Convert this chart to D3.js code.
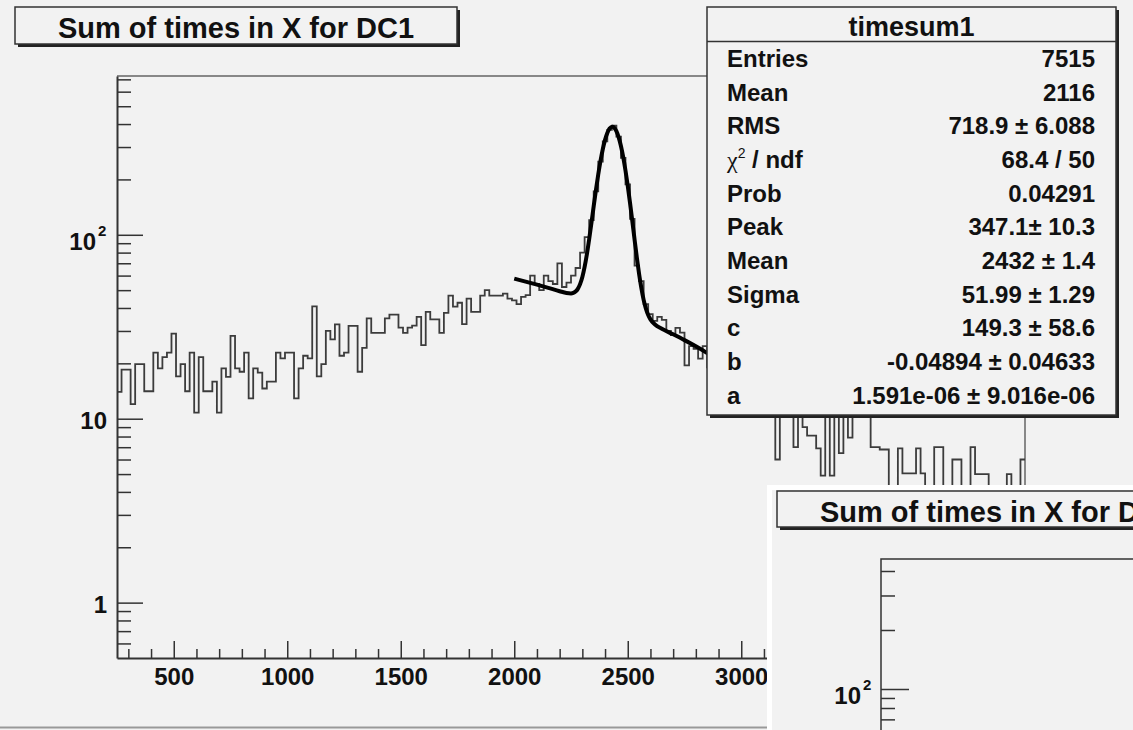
<!DOCTYPE html>
<html>
<head>
<script src="https://cdnjs.cloudflare.com/ajax/libs/d3/7.8.5/d3.min.js"></script>
<style>
  body { margin: 0; background: #f2f2f2; }
  svg { display: block; font-family: "Liberation Sans", Arial, sans-serif; }
  .lbl { font-weight: bold; fill: #111; }
</style>
</head>
<body>
<div id="chart"></div>
<script>
const W = 1133, H = 730;

// histogram "timesum1": 200 bins of width 20 starting at 250
const binLow = 250, binWidth = 20;
const counts = [
  14, 18.5, 18.5, 12, 19.8, 19.8, 14.1, 14.1, 22.9, 18.8,
  21.6, 22.9, 29, 17, 19.8, 14.1, 22.9, 10.8, 21.6, 14.1,
  14.1, 15.9, 10.8, 18.8, 16.9, 28.2, 18.8, 18, 22.9, 12.9,
  18.8, 17.8, 14.6, 15.9, 15.9, 22.9, 21.3, 22.9, 22.9, 12.9,
  18.8, 22, 21.3, 40.8, 17, 19.8, 30, 27, 32.6, 22,
  22.9, 32, 32, 18, 24.3, 35.1, 29.3, 29.3, 29.3, 35.1,
  36.8, 36.8, 31.3, 29.3, 31.3, 32.1, 35.8, 25.1, 38.1, 34.7,
  34.7, 29.3, 37.6, 46.7, 40.7, 42.7, 32.7, 45, 38.1, 38.1,
  46.7, 50, 46.7, 46.7, 46.7, 47.9, 45, 44, 42, 46,
  47, 60, 54, 50, 60, 56, 54, 70, 52, 55,
  60, 66, 80, 97, 120, 172, 250, 322, 372, 392,
  342, 262, 188, 122, 68, 56, 42, 37, 34, 35.8,
  34.5, 30, 28.5, 31.2, 29.4, 19.5, 24.8, 24, 21.2, 24.8,
  19, 22, 17, 20, 15, 18, 14, 16, 13, 15,
  12, 14, 12.5, 11.5, 13, 6.0, 12, 11, 13, 7.0,
  11, 9.0, 8.1, 8.1, 6.9, 4.9, 12, 4.9, 10.2, 6.5,
  10.4, 7.9, 12, 11.5, 12, 11, 7.0, 7.0, 6.8, 6.8,
  3.2, 3.0, 6.9, 5.05, 5.05, 5.05, 6.9, 5.05, 3.5, 3.8,
  7, 7, 3, 3.5, 6, 6, 3.5, 4, 7, 5,
  5, 5, 3, 3.5, 2.8, 3.2, 5, 3.5, 3, 6
];

// fitted curve (gaus + pol2) sampled over the fit range
const fitX = [2000, 2050, 2100, 2150, 2200, 2230, 2250, 2260, 2270, 2280, 2290, 2300, 2310, 2320, 2330,
  2340, 2350, 2360, 2370, 2380, 2390, 2400, 2410, 2420, 2432, 2440, 2450, 2460, 2470, 2480, 2490, 2500,
  2510, 2520, 2530, 2540, 2550, 2560, 2570, 2580, 2590, 2600, 2620, 2650, 2700, 2750, 2800, 2850, 2900,
  2950, 3000, 3050, 3100, 3120];
const fitY = [57.78, 55.66, 53.54, 51.43, 49.35, 48.26, 48.00, 48.28, 49.11, 50.82, 53.90, 58.95, 66.85,
  78.42, 94.55, 115.99, 143.15, 175.66, 212.71, 252.34, 291.89, 328.21, 357.98, 378.18, 386.79, 382.36,
  365.85, 338.74, 303.88, 264.41, 223.59, 184.49, 149.12, 118.97, 94.40, 75.36, 61.26, 51.24, 44.27,
  39.67, 36.65, 34.68, 32.50, 30.83, 28.76, 26.75, 24.74, 22.74, 20.75, 18.77, 16.80, 14.83, 12.88, 12.09];

const xMajorTicks = [500, 1000, 1500, 2000, 2500, 3000, 3500, 4000];
const xLabelled = [500, 1000, 1500, 2000, 2500, 3000]; // the rest sit under the second pad
const yDecades = [1, 10, 100];
const yLabels = ["1", "10", "10"];
const yLabelSup = ["", "", "2"];

const statNames = ["Entries", "Mean", "RMS", "chi", "Prob", "Peak", "Mean", "Sigma", "c", "b", "a"];
const statValues = ["7515", "2116", "718.9 \u00b1  6.088", "68.4 / 50", "0.04291", "347.1\u00b1 10.3",
  "2432 \u00b1 1.4", "51.99 \u00b1 1.29", "149.3 \u00b1 58.6", "-0.04894 \u00b1 0.04633",
  "1.591e-06 \u00b1 9.016e-06"];

const title = "Sum of times in X for DC1";
const statTitle = "timesum1";

const bg = "#f2f2f2";
const frame = { left: 117, right: 1025, top: 76, bottom: 658 };

const svg = d3.select("#chart").append("svg").attr("width", W).attr("height", H);
svg.append("rect").attr("width", W).attr("height", H).attr("fill", bg);
svg.append("line").attr("x1", 0).attr("x2", W).attr("y1", 727.5).attr("y2", 727.5)
  .attr("stroke", "#999").attr("stroke-width", 2);

const x = d3.scaleLinear().domain([binLow, binLow + binWidth * counts.length]).range([frame.left, frame.right]);
const y = d3.scaleLog().domain([0.5, 730]).range([frame.bottom, frame.top]);

svg.append("clipPath").attr("id", "frameClip").append("rect")
  .attr("x", frame.left).attr("y", frame.top)
  .attr("width", frame.right - frame.left).attr("height", frame.bottom - frame.top);

// frame top / right
svg.append("path")
  .attr("d", `M${frame.left},${frame.top}H${frame.right}V${frame.bottom}`)
  .attr("fill", "none").attr("stroke", "#666").attr("stroke-width", 1.5);

// histogram outline
const histPts = counts.map((v, i) => [binLow + i * binWidth, v]);
histPts.push([binLow + counts.length * binWidth, counts[counts.length - 1]]);
svg.append("path")
  .datum(histPts)
  .attr("clip-path", "url(#frameClip)")
  .attr("fill", "none").attr("stroke", "#3c3c3c").attr("stroke-width", 1.8)
  .attr("d", d3.line().x(d => x(d[0])).y(d => y(d[1])).curve(d3.curveStepAfter));

// fit curve
svg.append("path")
  .datum(fitX.map((v, i) => [v, fitY[i]]))
  .attr("clip-path", "url(#frameClip)")
  .attr("fill", "none").attr("stroke", "#000").attr("stroke-width", 4)
  .attr("stroke-linejoin", "round")
  .attr("d", d3.line().x(d => x(d[0])).y(d => y(d[1])).curve(d3.curveMonotoneX));

// x axis
const xMinor = d3.range(300, 4250, 100).filter(v => v % 500 !== 0);
const gx = svg.append("g").attr("transform", `translate(0,${frame.bottom})`);
gx.call(d3.axisBottom(x).tickValues(xMajorTicks).tickSize(-17).tickSizeOuter(0)
  .tickFormat(d => xLabelled.includes(d) ? d3.format("d")(d) : ""));
gx.append("g").call(d3.axisBottom(x).tickValues(xMinor).tickSize(-9).tickSizeOuter(0).tickFormat(""))
  .select(".domain").remove();
gx.selectAll(".domain").attr("stroke", "#333").attr("stroke-width", 2);
gx.selectAll(".tick line").attr("stroke", "#333").attr("stroke-width", 1.5);
gx.selectAll(".tick text").filter(function () { return this.textContent === ""; }).remove();
gx.selectAll(".tick text").attr("class", "lbl").attr("dy", null).attr("y", 27)
  .style("font-size", "24px").attr("fill", "#111");

// y axis
const yMinor = [0.6, 0.7, 0.8, 0.9, 2, 3, 4, 5, 6, 7, 8, 9, 20, 30, 40, 50, 60, 70, 80, 90, 200, 300, 400, 500, 600, 700];
const gy = svg.append("g").attr("transform", `translate(${frame.left},0)`);
gy.call(d3.axisLeft(y).tickValues(yDecades).tickSize(-26).tickSizeOuter(0).tickFormat(""));
gy.append("g").call(d3.axisLeft(y).tickValues(yMinor).tickSize(-14).tickSizeOuter(0).tickFormat(""))
  .select(".domain").remove();
gy.selectAll(".domain").attr("stroke", "#333").attr("stroke-width", 2);
gy.selectAll(".tick line").attr("stroke", "#333").attr("stroke-width", 1.5);
gy.selectAll(".tick text").remove();

// decade label, with the exponent as its own small text to the right
function decadeLabel(g, xr, yb, base, sup) {
  if (sup) {
    g.append("text").attr("class", "lbl").style("font-size", "24px").attr("text-anchor", "end")
      .attr("x", xr - 12).attr("y", yb + 15).text(base);
    g.append("text").attr("class", "lbl").style("font-size", "15px").attr("text-anchor", "start")
      .attr("x", xr - 10).attr("y", yb + 1).text(sup);
  } else {
    g.append("text").attr("class", "lbl").style("font-size", "24px").attr("text-anchor", "end")
      .attr("x", xr - 1).attr("y", yb + 10).text(base);
  }
}
yDecades.forEach((d, i) => decadeLabel(svg, 108, y(d), yLabels[i], yLabelSup[i]));

// title box
function titleBox(g, bx, by, bw, bh, label) {
  g.append("rect").attr("x", bx + 3).attr("y", by + 3).attr("width", bw).attr("height", bh).attr("fill", "#222");
  g.append("rect").attr("x", bx).attr("y", by).attr("width", bw).attr("height", bh)
    .attr("fill", bg).attr("stroke", "#333").attr("stroke-width", 1.5);
  g.append("text").attr("class", "lbl").attr("x", bx + bw / 2).attr("y", by + 31)
    .attr("text-anchor", "middle").style("font-size", "29px").text(label);
}
titleBox(svg.append("g"), 15, 7, 442, 37, title);

// stats box
const sb = { x: 707, y: 7, w: 409, h: 408 };
const gs = svg.append("g");
gs.append("rect").attr("x", sb.x + 3).attr("y", sb.y + 3).attr("width", sb.w).attr("height", sb.h).attr("fill", "#222");
gs.append("rect").attr("x", sb.x).attr("y", sb.y).attr("width", sb.w).attr("height", sb.h)
  .attr("fill", bg).attr("stroke", "#333").attr("stroke-width", 1.5);
gs.append("line").attr("x1", sb.x).attr("x2", sb.x + sb.w).attr("y1", 41.5).attr("y2", 41.5)
  .attr("stroke", "#333").attr("stroke-width", 1.5);
gs.append("text").attr("class", "lbl").attr("x", sb.x + sb.w / 2).attr("y", 36)
  .attr("text-anchor", "middle").style("font-size", "27px").text(statTitle);

statNames.forEach((name, i) => {
  const yy = 67 + 33.65 * i;
  const t = gs.append("text").attr("class", "lbl").attr("x", 727).attr("y", yy).style("font-size", "24px");
  if (name === "chi") {
    t.append("tspan").text("\u03c7").style("font-family", "'Liberation Serif', serif").style("font-weight", "normal");
    t.append("tspan").text("2").style("font-size", "14px").style("font-weight", "normal").attr("dy", -10);
    t.append("tspan").text(" / ndf").attr("dy", 10);
  } else {
    t.text(name);
  }
  gs.append("text").attr("class", "lbl").attr("x", 1095).attr("y", yy)
    .attr("text-anchor", "end").style("font-size", "24px").text(statValues[i]);
});

// second pad (lower right corner)
const gp = svg.append("g");
gp.append("rect").attr("x", 767).attr("y", 485).attr("width", W - 767).attr("height", H - 485).attr("fill", "#fff");
gp.append("rect").attr("x", 772).attr("y", 490).attr("width", W - 772).attr("height", H - 490).attr("fill", bg);
titleBox(gp, 777, 491, 442, 36, title);

const y2 = d3.scaleLog().domain([100, 1000]).range([689, 493]);
const pf = { left: 881, top: 559 };
gp.append("path").attr("d", `M${pf.left},${H}V${pf.top}H${W}`)
  .attr("fill", "none").attr("stroke", "#333").attr("stroke-width", 1.5);
const gy2 = gp.append("g").attr("transform", `translate(${pf.left},0)`);
gy2.call(d3.axisLeft(y2).tickValues([100]).tickSize(-28).tickSizeOuter(0).tickFormat(""));
gy2.append("g").call(d3.axisLeft(y2).tickValues([70, 80, 90, 200, 300, 400]).tickSize(-14).tickSizeOuter(0).tickFormat(""));
gy2.selectAll(".domain").remove();
gy2.selectAll(".tick line").attr("stroke", "#333").attr("stroke-width", 1.5);
gy2.selectAll(".tick text").remove();
decadeLabel(gp, 873, y2(100), "10", "2");
</script>
</body>
</html>
